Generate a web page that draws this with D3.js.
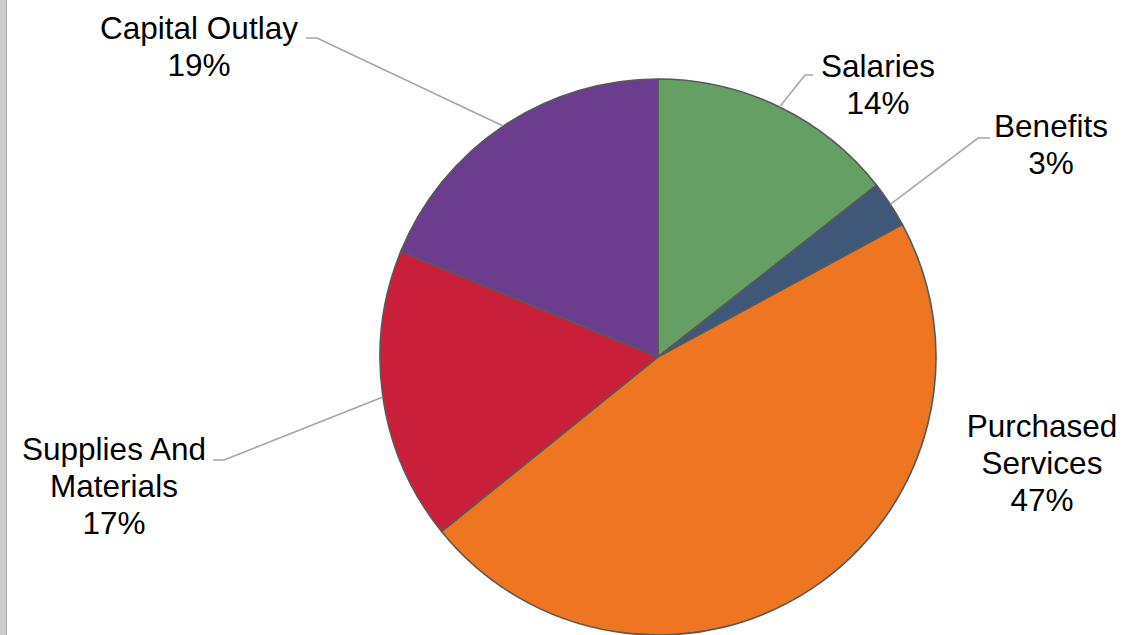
<!DOCTYPE html>
<html>
<head>
<meta charset="utf-8">
<script src="https://cdn.jsdelivr.net/npm/d3@7"></script>
<style>
  html, body { margin: 0; padding: 0; background: #fff; }
  svg { display: block; }
  text { font-family: "Liberation Sans", Arial, sans-serif; fill: #000; }
</style>
</head>
<body>
<svg id="chart" width="1124" height="635"></svg>
<script>
// data (percent share, clockwise from 12 o'clock)
var categories = ['Salaries', 'Benefits', 'Purchased Services', 'Supplies And Materials', 'Capital Outlay'];
var values = [14.4, 2.7, 47.1, 17.0, 18.8];
var colors = ['#659f64', '#3f5779', '#ee7623', '#c91f3b', '#6c3c8e'];
var labelLines = [['Salaries'], ['Benefits'], ['Purchased', 'Services'], ['Supplies And', 'Materials'], ['Capital Outlay']];

// layout
var width = 1124, height = 635;
var cx = 658, cy = 357, radius = 278;
var fontSize = 31.5, lineStep = 37;
// label anchor: centre x, first baseline y, leader elbow (x,y), leader end x
var labelPos = [
  { x: 878, y: 77, elbow: [805, 75], end: 813 },
  { x: 1051, y: 137, elbow: [978, 138], end: 990 },
  { x: 1042, y: 437, elbow: null },
  { x: 114, y: 460, elbow: [224, 460], end: 213 },
  { x: 199, y: 39, elbow: [317, 38], end: 306 }
];

var svg = d3.select('#chart');

// grey strip on the left edge
svg.append('rect').attr('x', 0).attr('y', 0).attr('width', 7).attr('height', height).attr('fill', '#cdcdcd');
svg.append('line').attr('x1', 6.5).attr('x2', 6.5).attr('y1', 0).attr('y2', height)
  .attr('stroke', '#a9a9a9').attr('stroke-width', 1);

var total = d3.sum(values);
var pie = d3.pie().sort(null).value(function (d) { return d; });
var arcs = pie(values);
var arc = d3.arc().innerRadius(0).outerRadius(radius);

var g = svg.append('g').attr('transform', 'translate(' + cx + ',' + cy + ')');

g.selectAll('path.slice')
  .data(arcs)
  .enter()
  .append('path')
  .attr('class', 'slice')
  .attr('d', arc)
  .attr('fill', function (d, i) { return colors[i]; })
  .attr('stroke', '#595959')
  .attr('stroke-width', 1.6)
  .attr('stroke-linejoin', 'round');

// leader lines
arcs.forEach(function (d, i) {
  var p = labelPos[i];
  if (!p.elbow) return;
  var mid = (d.startAngle + d.endAngle) / 2;
  var sx = cx + radius * Math.sin(mid);
  var sy = cy - radius * Math.cos(mid);
  svg.append('polyline')
    .attr('points', [[sx, sy], p.elbow, [p.end, p.elbow[1]]].map(function (q) { return q.join(','); }).join(' '))
    .attr('fill', 'none')
    .attr('stroke', '#a6a6a6')
    .attr('stroke-width', 1.6);
});

// labels
arcs.forEach(function (d, i) {
  var p = labelPos[i];
  var lines = labelLines[i].concat([Math.round(values[i] / total * 100) + '%']);
  var t = svg.append('text')
    .attr('text-anchor', 'middle')
    .attr('font-size', fontSize);
  lines.forEach(function (s, k) {
    t.append('tspan').attr('x', p.x).attr('y', p.y + k * lineStep).text(s);
  });
});
</script>
</body>
</html>
